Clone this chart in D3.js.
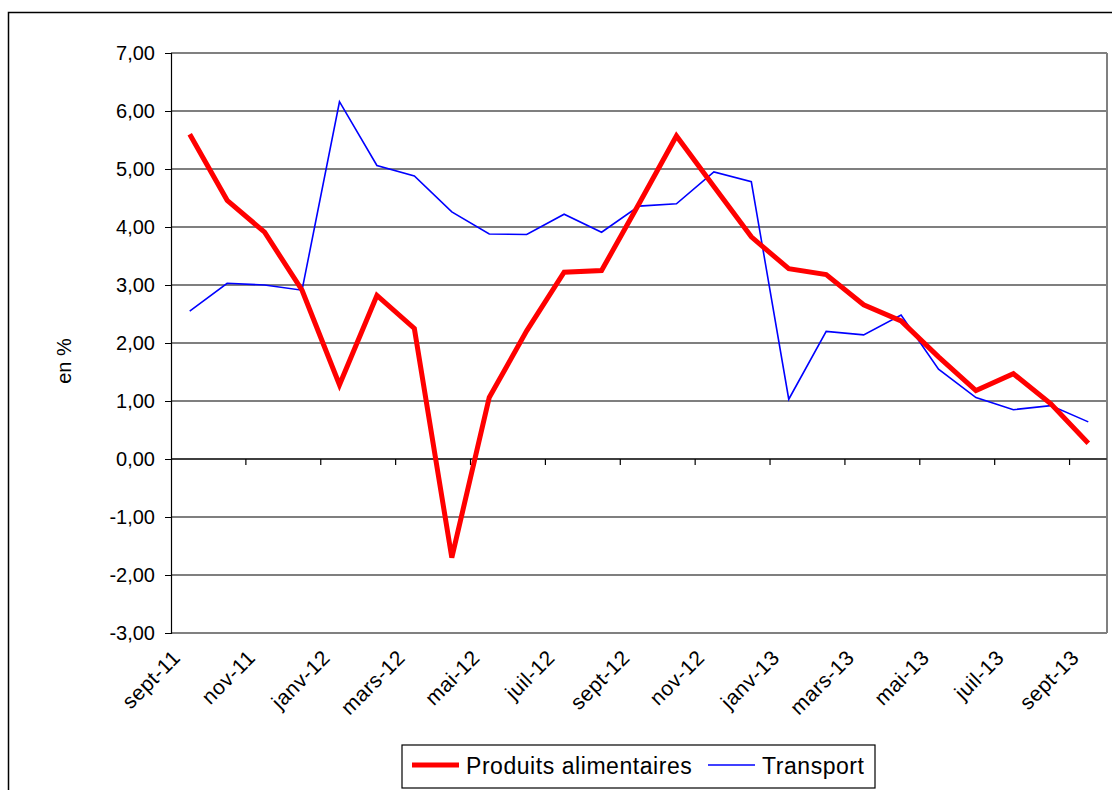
<!DOCTYPE html>
<html>
<head>
<meta charset="utf-8">
<script src="https://cdn.jsdelivr.net/npm/d3@7"></script>
<style>
  body { margin: 0; background: #fff; }
  svg { display: block; font-family: "Liberation Sans", Arial, sans-serif; }
</style>
</head>
<body>
<div class="chart-div"></div>
<script>
// monthly categories, sept-11 to sept-13
let months = ["sept-11","oct-11","nov-11","déc-11","janv-12","févr-12","mars-12","avr-12",
  "mai-12","juin-12","juil-12","août-12","sept-12","oct-12","nov-12","déc-12",
  "janv-13","févr-13","mars-13","avr-13","mai-13","juin-13","juil-13","août-13","sept-13"];

let alimentaires = [5.60, 4.46, 3.91, 2.91, 1.28, 2.82, 2.25, -1.70, 1.06, 2.21, 3.22, 3.25,
  4.40, 5.57, 4.70, 3.83, 3.28, 3.18, 2.66, 2.38, 1.76, 1.18, 1.47, 0.95, 0.27];

let transport = [2.55, 3.03, 3.00, 2.91, 6.16, 5.06, 4.88, 4.26, 3.88, 3.87, 4.22, 3.91,
  4.36, 4.40, 4.95, 4.78, 1.03, 2.20, 2.14, 2.48, 1.55, 1.06, 0.85, 0.92, 0.64];

let yTicks = [7, 6, 5, 4, 3, 2, 1, 0, -1, -2, -3];

let width = 1112;
let height = 790;

const plot = { left: 171, top: 53, right: 1107, bottom: 633 };

let svg = d3.select(".chart-div").append("svg")
  .attr("width", width)
  .attr("height", height);

// outer chart border (cut off on the right and bottom)
svg.append("path")
  .attr("d", `M8.5,${height + 2} V12.5 H${width + 2}`)
  .attr("fill", "none")
  .attr("stroke", "#000")
  .attr("stroke-width", 1.5);

let x = d3.scaleBand()
  .domain(months)
  .range([plot.left, plot.right]);

let y = d3.scaleLinear()
  .domain([-3, 7])
  .range([plot.bottom, plot.top]);

// french style: comma decimal, plain hyphen for negatives
let fmt = d => d3.format(".2f")(d).replace(".", ",").replace("\u2212", "-");

// horizontal gridlines
svg.append("g")
  .selectAll("line")
  .data(yTicks)
  .enter()
  .append("line")
  .attr("x1", plot.left)
  .attr("x2", plot.right)
  .attr("y1", d => y(d))
  .attr("y2", d => y(d))
  .attr("stroke", d => (d == 7 || d == -3) ? "#808080" : "#000")
  .attr("stroke-width", d => (d == 7 || d == -3) ? 2 : 1.2);

// plot area right border
svg.append("line")
  .attr("x1", plot.right).attr("x2", plot.right)
  .attr("y1", plot.top).attr("y2", plot.bottom)
  .attr("stroke", "#808080")
  .attr("stroke-width", 2);

// y axis
let yAxis = d3.axisLeft(y)
  .tickValues(yTicks)
  .tickSize(6)
  .tickPadding(10)
  .tickFormat(fmt);

let gy = svg.append("g")
  .attr("transform", `translate(${plot.left},0)`)
  .call(yAxis);

gy.select(".domain").attr("stroke", "#000").attr("stroke-width", 1.2);
gy.selectAll(".tick line").attr("stroke", "#000");
gy.selectAll(".tick text")
  .attr("font-size", 20)
  .attr("font-family", "Liberation Sans, Arial, sans-serif")
  .attr("fill", "#000");

// x axis crosses at zero, ticks between every second category
let boundaries = months.map((m, i) => i).filter(i => i % 2 == 0 && i > 0);

svg.append("line")
  .attr("x1", plot.left).attr("x2", plot.right)
  .attr("y1", y(0)).attr("y2", y(0))
  .attr("stroke", "#000")
  .attr("stroke-width", 1.2);

svg.append("g")
  .selectAll("line")
  .data(boundaries)
  .enter()
  .append("line")
  .attr("x1", i => x(months[i]))
  .attr("x2", i => x(months[i]))
  .attr("y1", y(0))
  .attr("y2", y(0) + 6)
  .attr("stroke", "#000")
  .attr("stroke-width", 1.2);

// category labels at the bottom, rotated
svg.append("g")
  .selectAll("text")
  .data(months.filter((m, i) => i % 2 == 0))
  .enter()
  .append("text")
  .attr("transform", d => `translate(${x(d) + x.bandwidth() / 2 - 8},${plot.bottom + 26}) rotate(-45)`)
  .attr("text-anchor", "end")
  .attr("font-size", 21)
  .attr("letter-spacing", 0.5)
  .attr("fill", "#000")
  .text(d => d);

// y axis title
svg.append("text")
  .attr("transform", "translate(71,361) rotate(-90)")
  .attr("text-anchor", "middle")
  .attr("font-size", 20)
  .text("en %");

// lines
let line = d3.line()
  .x((d, i) => x(months[i]) + x.bandwidth() / 2)
  .y(d => y(d));

svg.append("path")
  .datum(transport)
  .attr("d", line)
  .attr("fill", "none")
  .attr("stroke", "#0000FF")
  .attr("stroke-width", 1.6);

svg.append("path")
  .datum(alimentaires)
  .attr("d", line)
  .attr("fill", "none")
  .attr("stroke", "#FF0000")
  .attr("stroke-width", 5)
  .attr("stroke-linejoin", "miter");

// legend
let legend = svg.append("g");

legend.append("rect")
  .attr("x", 402)
  .attr("y", 745)
  .attr("width", 473)
  .attr("height", 43)
  .attr("fill", "#fff")
  .attr("stroke", "#000")
  .attr("stroke-width", 1.2);

let legendItems = [
  { name: "Produits alimentaires", colour: "#FF0000", w: 5, x: 412 },
  { name: "Transport", colour: "#0000FF", w: 1.6, x: 708 }
];

legendItems.forEach(d => {
  legend.append("line")
    .attr("x1", d.x).attr("x2", d.x + 47)
    .attr("y1", 765).attr("y2", 765)
    .attr("stroke", d.colour)
    .attr("stroke-width", d.w);
  legend.append("text")
    .attr("x", d.x + 54)
    .attr("y", 774)
    .attr("font-size", 23)
    .attr("letter-spacing", 0.55)
    .attr("fill", "#000")
    .text(d.name);
});
</script>
</body>
</html>
